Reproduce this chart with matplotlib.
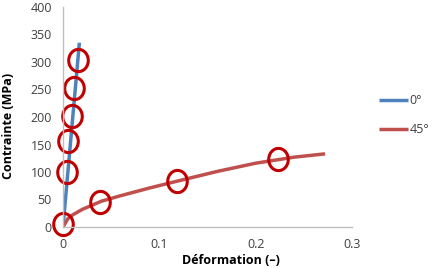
import matplotlib
matplotlib.use("Agg")
import matplotlib.pyplot as plt
import numpy as np
from matplotlib.path import Path

# data
x0 = [0.0, 0.017]
y0 = [0, 335]
x45 = [0, 0.005, 0.01, 0.02, 0.04, 0.06, 0.09, 0.12, 0.16, 0.2, 0.24, 0.272]
y45 = [0, 15, 22, 32, 47, 57, 71, 84, 101, 116, 127, 133]
circ_x = [0.0, 0.004, 0.0052, 0.0093, 0.0114, 0.0156, 0.038, 0.118, 0.223]
circ_y = [5, 100, 156, 202, 252, 303, 46, 84, 124]
xticks = [0, 0.1, 0.2, 0.3]
xtick_labels = ["0", "0.1", "0.2", "0.3"]
yticks = [0, 50, 100, 150, 200, 250, 300, 350, 400]
labels = ["0°", "45°"]

# vertical ellipse marker
t = np.linspace(0, 2 * np.pi, 60)
ell = Path(np.column_stack([0.88 * np.cos(t), np.sin(t)]), closed=True)

plt.rcParams['font.family'] = ['Open Sans', 'DejaVu Sans']
W, H = 435, 268
fig = plt.figure(figsize=(W / 100, H / 100), dpi=100)
ax = fig.add_axes([63 / W, 41 / H, 289 / W, 220 / H])

l1, = ax.plot(x0, y0, color='#4F81BD', lw=2.5, solid_capstyle='butt')
l2, = ax.plot(x45, y45, color='#C0504D', lw=2.5, solid_capstyle='butt')
ax.plot(circ_x, circ_y, ls='none', marker=ell, ms=16, mfc='none',
        mec='#C00000', mew=2.2, clip_on=False)

ax.set_xlim(0, 0.3)
ax.set_ylim(0, 400)
ax.set_xticks(xticks)
ax.set_xticklabels(xtick_labels)
ax.set_yticks(yticks)
ax.tick_params(length=0, labelsize=9, colors='#404040', pad=8)
for s in ['top', 'right']:
    ax.spines[s].set_visible(False)
for s in ['left', 'bottom']:
    ax.spines[s].set_color('#BFBFBF')
    ax.spines[s].set_linewidth(1.0)

fig.text(231 / W, 1 - 260 / H, "Déformation (–)", ha='center', va='center',
         fontsize=9, fontweight='bold')
fig.text(9 / W, 1 - 126 / H, "Contrainte (MPa)", ha='center', va='center',
         rotation=90, fontsize=9, fontweight='bold')

fig.legend([l1, l2], labels, loc='center left', bbox_to_anchor=(368 / W, 1 - 115 / H),
           frameon=False, fontsize=9, handlelength=2.3, handletextpad=0.1,
           labelspacing=1.3, labelcolor='#404040')

fig.savefig("out.png", dpi=100)
